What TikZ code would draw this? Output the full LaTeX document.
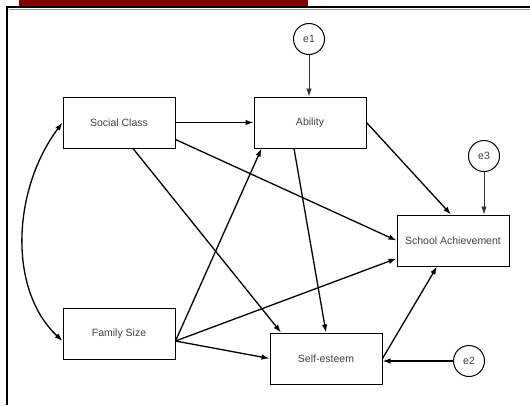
\documentclass[tikz,border=0pt]{standalone}
\usepackage{fontspec}
\setmainfont{Liberation Sans}
\usetikzlibrary{arrows.meta,calc}
\definecolor{barred}{RGB}{128,0,0}
\definecolor{txtgray}{RGB}{64,64,64}
\begin{document}
\begin{tikzpicture}[x=1pt,y=-1pt,
  var/.style={draw=black,line width=1pt,minimum width=112pt,minimum height=51pt,inner sep=0pt,font=\fontsize{10.5}{12}\selectfont,text=txtgray},
  err/.style={draw=black,line width=1pt,circle,minimum size=31pt,inner sep=0pt,font=\fontsize{10.5}{12}\selectfont,text=txtgray},
  path/.style={line width=1.3pt,-{Latex[length=8pt,width=5.5pt]}},
  epath/.style={line width=0.8pt,draw=black!80,-{Latex[length=8pt,width=5.5pt]}}]
\useasboundingbox (0,0) rectangle (530,405);
\fill[white] (0,0) rectangle (530,405);
\fill[barred] (19,0) rectangle (308,6);
\draw[line width=2.4pt] (530,7) -- (7,7) -- (7,405);
\draw[line width=0.6pt,black!40] (530,9) -- (9,9);

\node[var] (sc) at (119,122.5) {Social Class};
\node[var] (ab) at (310,122.5) {Ability};
\node[var] (sa) at (453,240.5) {School Achievement};
\node[var] (fs) at (119,333.5) {Family Size};
\node[var] (se) at (326,358.5) {Self-esteem};
\node[err] (e1) at (309,39) {e1};
\node[err] (e3) at (484,156) {e3};
\node[err] (e2) at (469,361) {e2};

\draw[path] (sc.east) -- (ab.west);
\draw[path] ([yshift=9pt]sc.south east) -- (sa.west);
\draw[path] ([xshift=14pt]sc.south) -- ([xshift=-45pt]se.north);
\draw[path] (ab.east) -- ([xshift=-2pt]sa.north);
\draw[path] ([xshift=-16pt]ab.south) -- (se.north);
\draw[path] ([yshift=-7.5pt]fs.east) -- ([xshift=8pt]ab.south west);
\draw[path] ([yshift=-7.5pt]fs.east) -- ([yshift=8pt]sa.south west);
\draw[path] ([yshift=-7.5pt]fs.east) -- (se.west);
\draw[path] (se.east) -- ([xshift=-16pt]sa.south);
\draw[epath] (e1.south) -- (e1.south |- ab.north);
\draw[epath] (e3.south) -- (e3.south |- sa.north);
\draw[path] (e2.west) -- (se.east |- e2.west);
\draw[line width=1.3pt,{Latex[length=8pt,width=5.5pt]}-{Latex[length=8pt,width=5.5pt]}]
  (sc.west) .. controls (12,190) and (8,290) .. ([yshift=-7.5pt]fs.west);
\end{tikzpicture}
\end{document}
